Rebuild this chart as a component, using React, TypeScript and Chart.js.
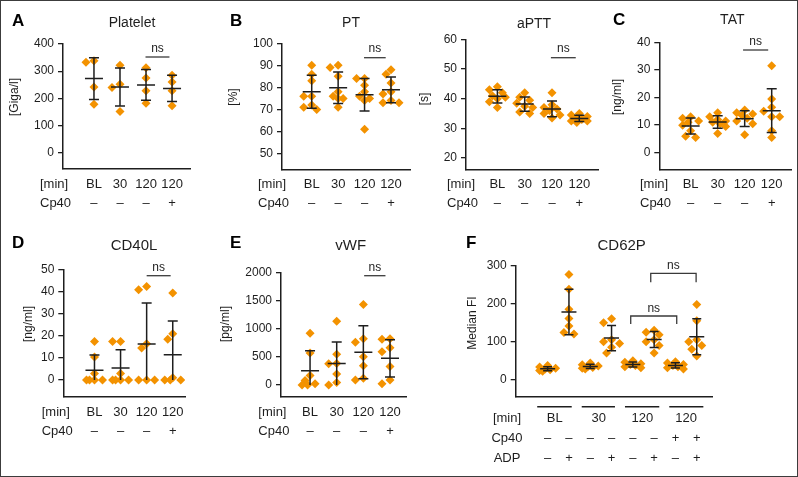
import React, { useEffect, useRef } from "react";
import { Chart, registerables } from "chart.js";

Chart.register(...registerables);

// ---------------- data ----------------
const timeLabels = ["BL", "30", "120", "120"];
const cp40Marks = ["–", "–", "–", "+"];

const plateletTicks = [0, 100, 200, 300, 400];
const plateletBL = [338, 333, 242, 178];
const platelet30 = [322, 252, 240, 152];
const platelet120 = [313, 275, 228, 182];
const platelet120Cp40 = [285, 260, 228, 173];

const ptTicks = [50, 60, 70, 80, 90, 100];
const ptBL = [90, 86, 83, 76, 76, 72, 71, 70];
const pt30 = [90, 89, 85, 78, 76, 75, 75, 71];
const pt120 = [84, 84, 81, 78, 76, 75, 74, 61];
const pt120Cp40 = [88, 86, 82, 78, 77, 74, 73, 73];

const apttTicks = [20, 30, 40, 50, 60];
const apttBL = [44, 43, 42, 41, 40.5, 40, 39, 37];
const aptt30 = [42, 40.5, 39.5, 38.5, 37.5, 37, 35.5, 35];
const aptt120 = [42, 38, 37, 36.5, 36, 35, 34.5, 33.5];
const aptt120Cp40 = [35, 34.5, 34, 33.5, 33, 32.5, 32.5, 32];

const tatTicks = [0, 10, 20, 30, 40];
const tatBL = [13, 12.5, 11.5, 11, 10, 8, 6, 5.5];
const tat30 = [14.5, 13, 12, 11.5, 11, 10.5, 9.5, 7];
const tat120 = [15.5, 14.5, 14, 13.5, 12.5, 11.5, 10.5, 6.5];
const tat120Cp40 = [31.5, 19.5, 16.5, 15, 13, 13, 8, 5.5];

const cd40lTicks = [0, 10, 20, 30, 40, 50];
const cd40lBL = [17.5, 10.5, 3, 0, 0, 0, 0];
const cd40l30 = [17.5, 17.5, 3, 0, 0, 0, 0];
const cd40l120 = [42.5, 41, 16.5, 14.5, 0, 0, 0];
const cd40l120Cp40 = [39.5, 21, 18.5, 1, 0, 0, 0];

const vwfTicks = [0, 500, 1000, 1500, 2000];
const vwfBL = [920, 570, 170, 80, 20, 0, 0];
const vwf30 = [1130, 545, 380, 375, 195, 45, 0];
const vwf120 = [1430, 820, 760, 500, 340, 120, 90];
const vwf120Cp40 = [820, 810, 660, 590, 330, 90, 20];

const cd62pTicks = [0, 100, 200, 300];
const cd62pTimeLabels = ["BL", "30", "120", "120"];
const cd62pCp40Marks = ["–", "–", "–", "–", "–", "–", "+", "+"];
const cd62pAdpMarks = ["–", "+", "–", "+", "–", "+", "–", "+"];
const cd62pBLrest = [37, 33, 30, 28, 26, 24, 22];
const cd62pBLadp = [277, 238, 185, 161, 141, 124, 120];
const cd62p30rest = [44, 39, 36, 34, 32, 30, 28];
const cd62p30adp = [160, 150, 105, 100, 95, 85, 70];
const cd62p120rest = [50, 46, 42, 40, 37, 34, 31];
const cd62p120adp = [130, 125, 118, 105, 100, 90, 70];
const cd62pCp40rest = [47, 44, 40, 37, 34, 31, 28];
const cd62pCp40adp = [198, 155, 105, 100, 90, 80, 62];

// ---------------- styling / layout ----------------
const W = 798;
const H = 477;
const FONT = "'Liberation Sans', Arial, Helvetica, sans-serif";
const NARROW = "'Liberation Sans Narrow', 'Arial Narrow', 'Liberation Sans', sans-serif";
const INK = "#1e1e1e";
const DOT = "#F39200";

type Row = { label: string; items: string[]; at?: number[]; y: number; labelX: number; labelAlign?: CanvasTextAlign };
type Ns = { from: number; to: number; y: number; textY: number; leg?: number };
type PanelCfg = {
  letter?: string; letterX?: number; letterY?: number;
  title: string; titleX: number; titleY: number; titleSize: number;
  yLabel: string; yLabelX: number; yLabelY: number;
  area: [number, number, number, number];
  yMin: number; yMax: number; ticks: number[];
  xMin: number; xMax: number;
  groups: number[][];
  rows: Row[];
  ns: Ns[];
  bars?: { from: number; to: number; y: number }[];
  meanHalf: number; capHalf: number;
};

const PANELS: PanelCfg[] = [
  {
    letter: "A", letterX: 12, letterY: 21.5,
    title: "Platelet", titleX: 132, titleY: 23, titleSize: 14,
    yLabel: "[Giga/l]", yLabelX: 15, yLabelY: 97,
    area: [63, 44, 190, 169], yMin: -60, yMax: 400, ticks: plateletTicks,
    xMin: -1.19, xMax: 3.69,
    groups: [plateletBL, platelet30, platelet120, platelet120Cp40],
    rows: [
      { label: "[min]", items: timeLabels, y: 184, labelX: 40 },
      { label: "Cp40", items: cp40Marks, y: 203, labelX: 40 },
    ],
    ns: [{ from: 1.98, to: 2.9, y: 57, textY: 49 }],
    meanHalf: 9, capHalf: 5,
  },
  {
    letter: "B", letterX: 230, letterY: 21.5,
    title: "PT", titleX: 351, titleY: 23, titleSize: 14,
    yLabel: "[%]", yLabelX: 234, yLabelY: 97,
    area: [282, 43.3, 410, 170], yMin: 42.5, yMax: 100, ticks: ptTicks,
    xMin: -1.125, xMax: 3.72,
    groups: [ptBL, pt30, pt120, pt120Cp40],
    rows: [
      { label: "[min]", items: timeLabels, y: 184, labelX: 258 },
      { label: "Cp40", items: cp40Marks, y: 203, labelX: 258 },
    ],
    ns: [{ from: 1.98, to: 2.8, y: 57.7, textY: 49 }],
    meanHalf: 9, capHalf: 5,
  },
  {
    title: "aPTT", titleX: 534, titleY: 24, titleSize: 14,
    yLabel: "[s]", yLabelX: 425, yLabelY: 99,
    area: [466, 39.3, 598, 170], yMin: 16, yMax: 60, ticks: apttTicks,
    xMin: -1.15, xMax: 3.685,
    groups: [apttBL, aptt30, aptt120, aptt120Cp40],
    rows: [
      { label: "[min]", items: timeLabels, y: 184, labelX: 447 },
      { label: "Cp40", items: cp40Marks, y: 203, labelX: 447 },
    ],
    ns: [{ from: 1.96, to: 2.87, y: 57.7, textY: 49 }],
    meanHalf: 9, capHalf: 5,
  },
  {
    letter: "C", letterX: 613, letterY: 20.5,
    title: "TAT", titleX: 732.3, titleY: 20, titleSize: 14,
    yLabel: "[ng/ml]", yLabelX: 618, yLabelY: 97,
    area: [659.3, 42.3, 791.7, 169.3], yMin: -6, yMax: 40, ticks: tatTicks,
    xMin: -1.16, xMax: 3.74,
    groups: [tatBL, tat30, tat120, tat120Cp40],
    rows: [
      { label: "[min]", items: timeLabels, y: 184.3, labelX: 640 },
      { label: "Cp40", items: cp40Marks, y: 203.3, labelX: 640 },
    ],
    ns: [{ from: 1.94, to: 2.87, y: 50, textY: 41.7 }],
    meanHalf: 9, capHalf: 5,
  },
  {
    letter: "D", letterX: 12, letterY: 243,
    title: "CD40L", titleX: 134, titleY: 246, titleSize: 15,
    yLabel: "[ng/ml]", yLabelX: 29, yLabelY: 324,
    area: [63.3, 270, 185, 396.7], yMin: -7.6, yMax: 50, ticks: cd40lTicks,
    xMin: -1.195, xMax: 3.47,
    groups: [cd40lBL, cd40l30, cd40l120, cd40l120Cp40],
    rows: [
      { label: "[min]", items: timeLabels, y: 412.3, labelX: 41.7 },
      { label: "Cp40", items: cp40Marks, y: 431.7, labelX: 41.7 },
    ],
    ns: [{ from: 2.0, to: 2.92, y: 275.7, textY: 267.7 }],
    meanHalf: 9, capHalf: 5,
  },
  {
    letter: "E", letterX: 230, letterY: 243,
    title: "vWF", titleX: 350.7, titleY: 246, titleSize: 15,
    yLabel: "[pg/ml]", yLabelX: 226, yLabelY: 324,
    area: [281, 272.3, 406, 397], yMin: -213, yMax: 2000, ticks: vwfTicks,
    xMin: -1.09, xMax: 3.6,
    groups: [vwfBL, vwf30, vwf120, vwf120Cp40],
    rows: [
      { label: "[min]", items: timeLabels, y: 412.3, labelX: 258.3 },
      { label: "Cp40", items: cp40Marks, y: 431.7, labelX: 258.3 },
    ],
    ns: [{ from: 2.03, to: 2.83, y: 275.7, textY: 267.7 }],
    meanHalf: 9, capHalf: 5,
  },
  {
    letter: "F", letterX: 466, letterY: 243,
    title: "CD62P", titleX: 621.7, titleY: 246, titleSize: 15,
    yLabel: "Median FI", yLabelX: 473, yLabelY: 323,
    area: [515.7, 265.7, 712.3, 396.7], yMin: -45, yMax: 300, ticks: cd62pTicks,
    xMin: -1.5, xMax: 7.73,
    groups: [cd62pBLrest, cd62pBLadp, cd62p30rest, cd62p30adp, cd62p120rest, cd62p120adp, cd62pCp40rest, cd62pCp40adp],
    rows: [
      { label: "[min]", items: cd62pTimeLabels, at: [0.33, 2.4, 4.45, 6.5], y: 418.3, labelX: 507, labelAlign: "center" },
      { label: "Cp40", items: cd62pCp40Marks, y: 438.3, labelX: 507, labelAlign: "center" },
      { label: "ADP", items: cd62pAdpMarks, y: 458.3, labelX: 507, labelAlign: "center" },
    ],
    ns: [
      { from: 3.9, to: 6.06, y: 316, leg: 324, textY: 308.3 },
      { from: 4.84, to: 6.97, y: 273.3, leg: 282.3, textY: 265.7 },
    ],
    bars: [
      { from: -0.49, to: 1.13, y: 406.7 },
      { from: 1.6, to: 3.16, y: 406.7 },
      { from: 3.63, to: 5.24, y: 406.7 },
      { from: 5.71, to: 7.31, y: 406.7 },
    ],
    meanHalf: 7.5, capHalf: 4.5,
  },
];

// ---------------- helpers ----------------
function mean(a: number[]) {
  return a.reduce((s, v) => s + v, 0) / a.length;
}
function sd(a: number[]) {
  const m = mean(a);
  return Math.sqrt(a.reduce((s, v) => s + (v - m) * (v - m), 0) / (a.length - 1));
}
function txt(ctx: CanvasRenderingContext2D, s: string, x: number, y: number, font: string, align: CanvasTextAlign = "center", color = INK) {
  ctx.save();
  ctx.font = font;
  ctx.fillStyle = color;
  ctx.textAlign = align;
  ctx.textBaseline = "middle";
  ctx.fillText(s, x, y);
  ctx.restore();
}

// beeswarm jitter (pixels): candidate offsets limited to a narrow band
const CANDIDATES = [0, -5, 5, -8, 8, -2.5, 2.5];
const MIN_DIST = 6.5;

function swarm(chart: any, groups: number[][]) {
  const xs = chart.scales.x;
  const ys = chart.scales.y;
  const pxPerUnit = xs.getPixelForValue(1) - xs.getPixelForValue(0);
  const pts: { x: number; y: number }[] = [];
  groups.forEach((vals, gi) => {
    const placed: { x: number; y: number }[] = [];
    const sorted = vals.slice().sort((a, b) => b - a);
    sorted.forEach((v) => {
      const py = ys.getPixelForValue(v);
      let best = 0;
      let bestD = -1;
      for (const dx of CANDIDATES) {
        const d = placed.length ? Math.min(...placed.map((p) => Math.hypot(p.x - dx, p.y - py))) : Infinity;
        if (d >= MIN_DIST) {
          best = dx;
          bestD = d;
          break;
        }
        if (d > bestD) {
          bestD = d;
          best = dx;
        }
      }
      placed.push({ x: best, y: py });
      pts.push({ x: gi + best / pxPerUnit, y: v });
    });
  });
  return pts;
}

function PanelChart({ cfg }: { cfg: PanelCfg }) {
  const ref = useRef<HTMLCanvasElement>(null);
  useEffect(() => {
    const canvas = ref.current;
    if (!canvas) return;
    const [l, t, r, b] = cfg.area;
    const YW = 40;
    const decor = {
      id: "decor",
      afterDatasetsDraw(chart: any) {
        const { ctx } = chart;
        const x = chart.scales.x;
        const y = chart.scales.y;
        ctx.save();
        ctx.strokeStyle = INK;
        ctx.lineWidth = 1.5;
        cfg.groups.forEach((g, i) => {
          const m = mean(g);
          const s = sd(g);
          const cx = x.getPixelForValue(i);
          const yt = y.getPixelForValue(m + s);
          const low = m - s;
          const yb = y.getPixelForValue(Math.max(low, 0));
          const ym = y.getPixelForValue(m);
          ctx.beginPath();
          ctx.moveTo(cx, yt);
          ctx.lineTo(cx, yb);
          ctx.moveTo(cx - cfg.capHalf, yt);
          ctx.lineTo(cx + cfg.capHalf, yt);
          if (low >= 0) {
            ctx.moveTo(cx - cfg.capHalf, yb);
            ctx.lineTo(cx + cfg.capHalf, yb);
          }
          ctx.moveTo(cx - cfg.meanHalf, ym);
          ctx.lineTo(cx + cfg.meanHalf, ym);
          ctx.stroke();
        });
        ctx.restore();
      },
      afterDraw(chart: any) {
        const { ctx } = chart;
        const x = chart.scales.x;
        if (cfg.letter) txt(ctx, cfg.letter, cfg.letterX || 0, cfg.letterY || 0, `bold 17px ${FONT}`, "left", "#000");
        txt(ctx, cfg.title, cfg.titleX, cfg.titleY, `${cfg.titleSize}px ${FONT}`);
        ctx.save();
        ctx.translate(cfg.yLabelX, cfg.yLabelY);
        ctx.rotate(-Math.PI / 2);
        txt(ctx, cfg.yLabel, 0, 0, `12px ${NARROW}`);
        ctx.restore();
        cfg.rows.forEach((row) => {
          txt(ctx, row.label, row.labelX, row.y, `13px ${FONT}`, row.labelAlign || "left");
          row.items.forEach((it, i) => {
            txt(ctx, it, x.getPixelForValue(row.at ? row.at[i] : i), row.y, `13px ${FONT}`);
          });
        });
        ctx.save();
        ctx.strokeStyle = "#3a3a3a";
        ctx.lineWidth = 1.3;
        cfg.ns.forEach((n) => {
          const x1 = x.getPixelForValue(n.from);
          const x2 = x.getPixelForValue(n.to);
          ctx.beginPath();
          if (n.leg !== undefined) {
            ctx.moveTo(x1, n.leg);
            ctx.lineTo(x1, n.y);
            ctx.lineTo(x2, n.y);
            ctx.lineTo(x2, n.leg);
          } else {
            ctx.moveTo(x1, n.y);
            ctx.lineTo(x2, n.y);
          }
          ctx.stroke();
          txt(ctx, "ns", (x1 + x2) / 2, n.textY, `12px ${FONT}`);
        });
        ctx.strokeStyle = INK;
        ctx.lineWidth = 1.6;
        (cfg.bars || []).forEach((bar) => {
          ctx.beginPath();
          ctx.moveTo(x.getPixelForValue(bar.from), bar.y);
          ctx.lineTo(x.getPixelForValue(bar.to), bar.y);
          ctx.stroke();
        });
        ctx.restore();
      },
    };
    const chart = new Chart(canvas, {
      type: "scatter",
      data: {
        datasets: [
          {
            data: cfg.groups.flatMap((g, i) => g.map((v) => ({ x: i, y: v }))),
            pointStyle: "rectRot",
            pointRadius: 4.5,
            pointHoverRadius: 4.5,
            backgroundColor: DOT,
            borderColor: DOT,
            borderWidth: 0,
          },
        ],
      },
      options: {
        animation: false,
        responsive: false,
        events: [],
        layout: { padding: { left: l - YW, top: t, right: W - r, bottom: H - b } },
        plugins: { legend: { display: false }, tooltip: { enabled: false } },
        scales: {
          x: {
            type: "linear",
            min: cfg.xMin,
            max: cfg.xMax,
            ticks: { display: false },
            grid: { display: false },
            border: { display: true, color: INK, width: 1.5 },
            afterFit: (s: any) => {
              s.height = 0;
            },
          },
          y: {
            type: "linear",
            min: cfg.yMin,
            max: cfg.yMax,
            afterBuildTicks: (s: any) => {
              s.ticks = cfg.ticks.map((v) => ({ value: v }));
            },
            ticks: {
              color: INK,
              font: { family: FONT, size: 12 },
              padding: 4,
              callback: (v: any) => String(v),
            },
            grid: { display: true, drawOnChartArea: false, drawTicks: true, tickLength: 5, color: INK, lineWidth: 1.3 },
            border: { display: true, color: INK, width: 1.5 },
            afterFit: (s: any) => {
              s.width = YW;
            },
          },
        },
      } as any,
      plugins: [decor],
    });
    chart.data.datasets[0].data = swarm(chart, cfg.groups) as any;
    chart.update("none");
    return () => chart.destroy();
  }, [cfg]);
  return <canvas ref={ref} width={W} height={H} style={{ position: "absolute", left: 0, top: 0, width: W, height: H }} />;
}

export default function App() {
  return (
    <div style={{ position: "absolute", left: 0, top: 0, width: W, height: H, background: "#fff", overflow: "hidden" }}>
      {PANELS.map((p, i) => (
        <PanelChart key={i} cfg={p} />
      ))}
      <div
        style={{
          position: "absolute",
          left: 0,
          top: 0,
          width: W,
          height: H,
          boxSizing: "border-box",
          border: "1px solid #3c3c3c",
          pointerEvents: "none",
        }}
      />
    </div>
  );
}
